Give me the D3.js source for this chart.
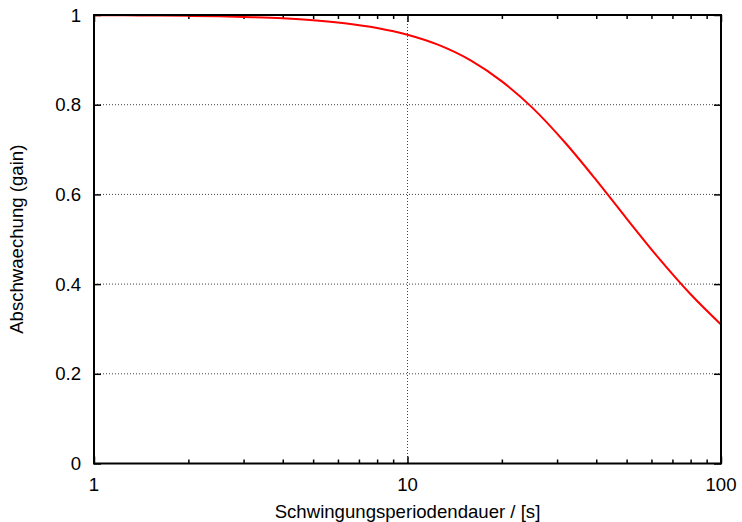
<!DOCTYPE html>
<html>
<head>
<meta charset="utf-8">
<script src="https://cdn.jsdelivr.net/npm/d3@7"></script>
<style>
  body { margin: 0; background: #fff; }
  text { font-family: "Liberation Sans", Arial, sans-serif; fill: #000; }
</style>
</head>
<body>
<div id="chart"></div>
<script>
// Schwingungsperiode (s) and gain
const periods = [1, 1.25, 1.6, 2, 2.5, 3.2, 4, 5, 6.3, 8, 10, 12.5, 16, 20, 25, 32, 40, 50, 63, 80, 100];
const gains   = [0.9995, 0.9993, 0.9988, 0.9981, 0.9971, 0.9952, 0.9926, 0.9885, 0.9818, 0.9712, 0.956,
                 0.9338, 0.8977, 0.852, 0.7935, 0.7135, 0.6318, 0.5462, 0.4596, 0.3774, 0.310];

const xTicks = [1, 10, 100];
const xMinor = [2, 3, 4, 5, 6, 7, 8, 9, 20, 30, 40, 50, 60, 70, 80, 90];
const yTicks = [0, 0.2, 0.4, 0.6, 0.8, 1];

const xLabel = "Schwingungsperiodendauer / [s]";
const yLabel = "Abschwaechung (gain)";

const W = 742, H = 522;
const margin = {top: 15, right: 21, bottom: 58.5, left: 94};
const width = W - margin.left - margin.right;
const height = H - margin.top - margin.bottom;
const fs = 18.6;

const svg = d3.select("#chart").append("svg")
    .attr("width", W)
    .attr("height", H);

const g = svg.append("g")
    .attr("transform", "translate(" + margin.left + "," + margin.top + ")");

const x = d3.scaleLog().domain([1, 100]).range([0, width]);
const y = d3.scaleLinear().domain([0, 1]).range([height, 0]);

// grid lines (dotted), only inner ones
g.selectAll(".hgrid")
    .data(yTicks.filter(d => d > 0 && d < 1))
    .enter().append("line")
    .attr("x1", 0).attr("x2", width)
    .attr("y1", d => y(d)).attr("y2", d => y(d))
    .attr("stroke", "#444").attr("stroke-width", 1)
    .attr("stroke-dasharray", "1,2");

g.selectAll(".vgrid")
    .data(xTicks.filter(d => d > 1 && d < 100))
    .enter().append("line")
    .attr("x1", d => x(d)).attr("x2", d => x(d))
    .attr("y1", 0).attr("y2", height)
    .attr("stroke", "#444").attr("stroke-width", 1)
    .attr("stroke-dasharray", "1,2");

// ticks pointing inward on all four sides
const tickSides = [
    {axis: d3.axisBottom(x), t: "translate(0," + height + ")", vals: xTicks, minor: xMinor},
    {axis: d3.axisTop(x), t: "translate(0,0)", vals: xTicks, minor: xMinor},
    {axis: d3.axisLeft(y), t: "translate(0,0)", vals: yTicks, minor: []},
    {axis: d3.axisRight(y), t: "translate(" + width + ",0)", vals: yTicks, minor: []}
];
tickSides.forEach(s => {
    const major = g.append("g").attr("transform", s.t)
        .call(s.axis.tickValues(s.vals).tickSize(-7).tickFormat(""));
    major.select(".domain").remove();
    major.selectAll("line").attr("stroke", "#000").attr("stroke-width", 1.5);
    if (s.minor.length) {
        const mn = g.append("g").attr("transform", s.t)
            .call(s.axis.tickValues(s.minor).tickSize(-4).tickFormat(""));
        mn.select(".domain").remove();
        mn.selectAll("line").attr("stroke", "#000").attr("stroke-width", 1.5);
    }
});

// curve
const line = d3.line()
    .x((d, i) => x(periods[i]))
    .y(d => y(d))
    .curve(d3.curveMonotoneX);

g.append("path")
    .datum(gains)
    .attr("fill", "none")
    .attr("stroke", "#ff0000")
    .attr("stroke-width", 2)
    .attr("d", line);

// frame
g.append("rect")
    .attr("x", 0).attr("y", 0)
    .attr("width", width).attr("height", height)
    .attr("fill", "none")
    .attr("stroke", "#000")
    .attr("stroke-width", 2);

// tick labels
g.selectAll(".xlab")
    .data(xTicks)
    .enter().append("text")
    .attr("x", d => x(d))
    .attr("y", height + 27)
    .attr("text-anchor", "middle")
    .style("font-size", fs + "px")
    .text(d => d);

g.selectAll(".ylab")
    .data(yTicks)
    .enter().append("text")
    .attr("x", -13)
    .attr("y", d => y(d))
    .attr("dy", "0.36em")
    .attr("text-anchor", "end")
    .style("font-size", fs + "px")
    .text(d => d);

// axis titles
svg.append("text")
    .attr("x", margin.left + width / 2)
    .attr("y", 517.5)
    .attr("text-anchor", "middle")
    .style("font-size", fs + "px")
    .text(xLabel);

svg.append("text")
    .attr("transform", "translate(23," + (margin.top + height / 2) + ") rotate(-90)")
    .attr("text-anchor", "middle")
    .style("font-size", fs + "px")
    .text(yLabel);
</script>
</body>
</html>
